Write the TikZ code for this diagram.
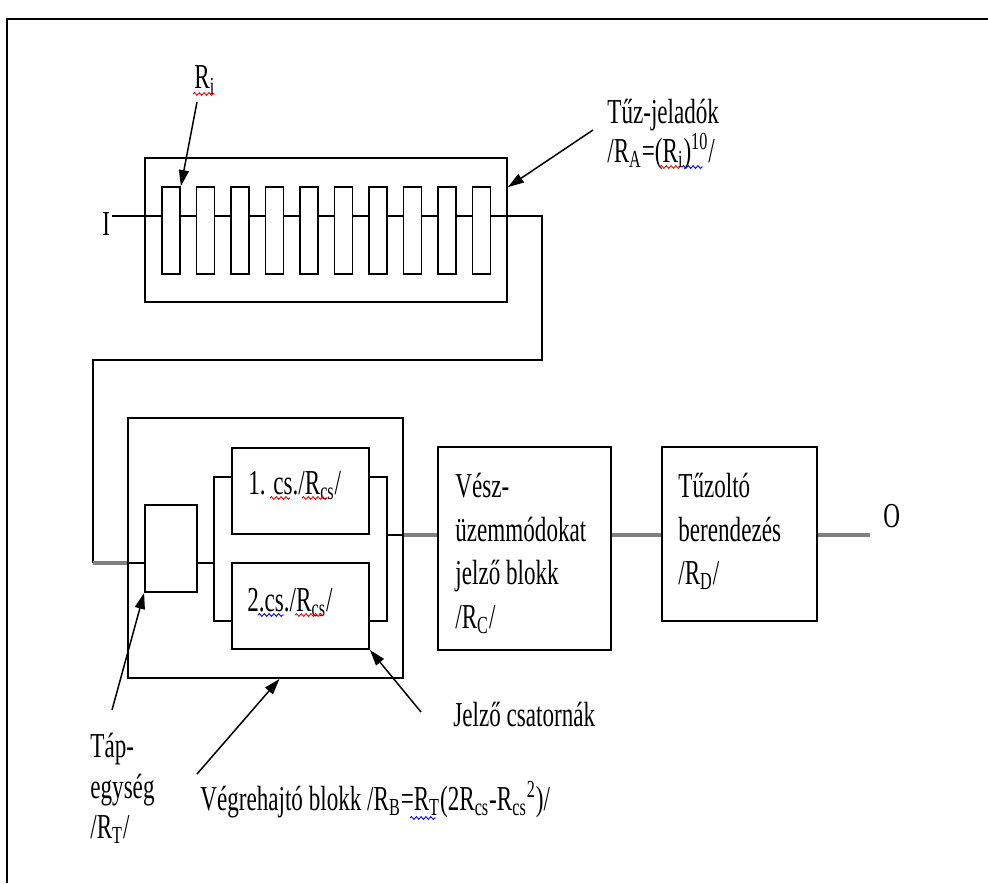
\documentclass[tikz,border=0pt]{standalone}
\usepackage{fontspec}
\setmainfont{Liberation Serif}[FakeStretch=0.66]
\usetikzlibrary{arrows.meta,decorations.pathmorphing,fit,calc}
\begin{document}
\begin{tikzpicture}[x=0.5pt,y=-0.5pt,
  blk/.style={draw=black,line width=0.9pt,fill=white,inner sep=0pt},
  wire/.style={draw=black,line width=0.9pt},
  gwire/.style={draw=black!50,line width=1.6pt},
  ptr/.style={draw=black,line width=0.75pt,-{Triangle[length=8pt,width=5pt]}},
  lbl/.style={font=\fontsize{17.5pt}{21pt}\selectfont,inner sep=0pt,anchor=base west},
  sqr/.style={draw=red,line width=0.45pt,decorate,decoration={snake,amplitude=0.7pt,segment length=2.4pt}},
  sqb/.style={sqr,draw=blue}]
\useasboundingbox (0,0) rectangle (988,883);
% outer frame
\coordinate (f1) at (988,19);
\coordinate (f2) at (7,19);
\coordinate (f3) at (7,883);
\draw[line width=1.3pt] (f1) -- (f2) -- (f3);

% sensor box
\node[blk,fit={(145,158) (507,302)}] (S) {};
\foreach \k in {1,...,10}{
  \pgfmathsetmacro\xa{162+34.5*(\k-1)}
  \pgfmathsetmacro\xb{180+34.5*(\k-1)}
  \node[blk,fit={(\xa,187) (\xb,274)}] (r\k) {};
}
\coordinate (in) at (112,216);
\draw[wire] (in) -- (r1.west |- in);
\foreach \k [evaluate=\k as \j using int(\k+1)] in {1,...,9}{
  \draw[wire] (r\k.east |- in) -- (r\j.west |- in);
}
\node[lbl] (I) at (102,235) {I};

% executive block
\node[blk,fit={(128,418) (403,678)}] (B) {};
\node[blk,fit={(145,505) (197,592)}] (T) {};
\node[blk,fit={(232,448) (369,534)}] (C1) {};
\node[blk,fit={(232,563) (369,649)}] (C2) {};
\node[blk,fit={(438,447) (611,650)}] (C) {};
\node[blk,fit={(662,447) (817,621)}] (D) {};

% wiring
\coordinate (j1) at (542,216);
\coordinate (j2) at (542,360);
\coordinate (j3) at (93,360);
\coordinate (j4) at (93,563);
\draw[wire] (r10.east |- j1) -- (j1) -- (j2) -- (j3) -- (j4);
\draw[gwire] (j4) -- (B.west |- j4);
\draw[wire] (B.west |- j4) -- (T.west |- j4);
\coordinate (bl) at (214,563);
\coordinate (bl1) at (214,477);
\coordinate (bl2) at (214,621);
\draw[wire] (T.east |- j4) -- (bl);
\draw[wire] (C1.west |- bl1) -- (bl1) -- (bl2) -- (C2.west |- bl2);
\coordinate (br1) at (387,477);
\coordinate (br2) at (387,621);
\coordinate (bo) at (387,535);
\draw[wire] (C1.east |- br1) -- (br1) -- (br2) -- (C2.east |- br2);
\draw[wire] (bo) -- (B.east |- bo);
\draw[gwire] (B.east |- bo) -- (C.west |- bo);
\draw[gwire] (C.east |- bo) -- (D.west |- bo);
\coordinate (oend) at (870,535);
\draw[gwire] (D.east |- bo) -- (oend);

% labels
\node[lbl] (Ri) at (194,89) {R\textsubscript{i}};
\node[lbl] (TZ1) at (607,123) {Tűz-jeladók};
\node[lbl] (TZ2) at (607,162) {/R\textsubscript{A}=(R\textsubscript{i})\textsuperscript{10}/};
\node[lbl] (L1) at (248,494) {1. cs./R\textsubscript{cs}/};
\node[lbl] (L2) at (247,611) {2.cs./R\textsubscript{cs}/};
\node[lbl] (CA) at (455,497) {Vész-};
\node[lbl] (CB) at (455,541) {üzemmódokat};
\node[lbl] (CC) at (455,584) {jelző blokk};
\node[lbl] (CD) at (455,628) {/R\textsubscript{C}/};
\node[lbl] (DA) at (678,497) {Tűzoltó};
\node[lbl] (DB) at (678,541) {berendezés};
\node[lbl] (DC) at (678,584) {/R\textsubscript{D}/};
\node[lbl] (O) at (883,527) {O};
\node[lbl] (JZ) at (453,726) {Jelző csatornák};
\node[lbl] (TA) at (90,757) {Táp-};
\node[lbl] (TB) at (90,798) {egység};
\node[lbl] (TC) at (90,838) {/R\textsubscript{T}/};
\node[lbl] (VG) at (200,810) {Végrehajtó blokk /R\textsubscript{B}=R\textsubscript{T}(2R\textsubscript{cs}-R\textsubscript{cs}\textsuperscript{2})/};

% pointer arrows
\coordinate (riA) at (197,102);
\draw[ptr] (riA) -- (r1.north east);
\coordinate (tzA) at (593,130);
\draw[ptr] (tzA) -- ([yshift=-15pt]S.north east);
\coordinate (tpA) at (112,710);
\draw[ptr] (tpA) -- (T.south west);
\coordinate (vgA) at (197,774);
\draw[ptr] (vgA) -- ([xshift=7pt]B.south);
\coordinate (jzA) at (421,712);
\draw[ptr] (jzA) -- (C2.south east);

% spell-check squiggles
\coordinate (q1a) at (193,94); \coordinate (q1b) at (215,94);
\draw[sqr] (q1a) -- (q1b);
\coordinate (q2a) at (660,167); \coordinate (q2b) at (682,167);
\draw[sqr] (q2a) -- (q2b);
\coordinate (q3a) at (682,167); \coordinate (q3b) at (703,167);
\draw[sqb] (q3a) -- (q3b);
\coordinate (q4a) at (270,498); \coordinate (q4b) at (290,498);
\draw[sqr] (q4a) -- (q4b);
\coordinate (q5a) at (302,498); \coordinate (q5b) at (328,498);
\draw[sqr] (q5a) -- (q5b);
\coordinate (q6a) at (258,615); \coordinate (q6b) at (284,615);
\draw[sqb] (q6a) -- (q6b);
\coordinate (q7a) at (295,615); \coordinate (q7b) at (323,615);
\draw[sqr] (q7a) -- (q7b);
\coordinate (q8a) at (410,818); \coordinate (q8b) at (436,818);
\draw[sqb] (q8a) -- (q8b);
\end{tikzpicture}
\end{document}
